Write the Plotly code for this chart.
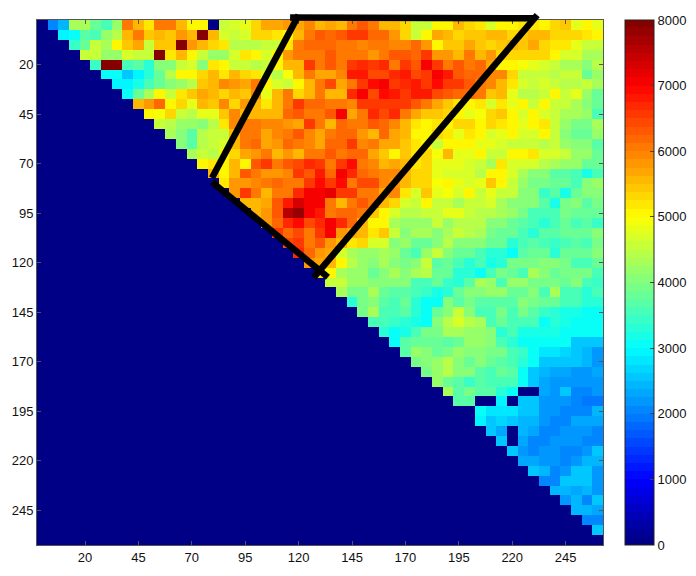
"""Upper-triangle jet heatmap with a black outlined region."""
import plotly.graph_objects as go

# values in hundreds; row r holds columns r+1 .. 52, everything left of that is 0
row_00 = [20,24,43,43,38,36,42,60,56,52,61,60,55,51,50,0,46,47,48,53,57,57,58,57,59,56,57,56,60,63,60,55,55,53,45,46,50,51,56,53,52,47,50,50,52,52,51,53,54,48,50,48]
row_01 = [29,30,37,35,42,44,56,60,54,56,54,58,56,80,56,47,46,47,53,53,52,51,56,60,63,62,63,65,65,62,62,58,53,46,50,57,56,53,54,54,55,55,53,54,55,56,53,53,53,52,50]
row_02 = [34,38,46,43,50,54,57,46,54,54,80,58,56,53,52,44,44,44,45,46,52,60,62,62,62,61,60,59,60,61,59,59,62,58,51,54,54,57,54,53,54,55,54,57,53,52,52,48,46,46]
row_03 = [45,45,42,42,47,45,45,80,52,55,50,46,42,42,47,52,50,47,50,58,60,60,61,63,61,60,60,58,60,63,63,62,65,58,58,55,60,55,58,53,53,53,53,53,50,47,47,43,43]
row_04 = [34,80,80,36,37,33,41,40,45,47,41,52,51,45,46,44,46,50,56,56,65,60,63,61,66,67,66,67,61,65,63,70,66,61,63,60,62,57,51,50,49,48,47,46,43,43,41,44]
row_05 = [30,30,26,29,33,38,44,50,51,53,55,52,56,53,52,47,44,49,56,60,57,57,59,68,68,64,64,67,68,64,66,70,68,63,62,62,59,59,53,46,45,45,44,45,45,38,42]
row_06 = [29,29,32,35,38,40,42,44,54,55,59,58,57,60,50,47,46,50,55,60,64,57,61,65,69,70,65,67,68,65,69,65,65,63,61,59,55,52,47,46,47,45,44,44,45,43]
row_07 = [30,38,43,50,46,52,54,57,56,53,55,54,59,48,55,61,53,56,61,56,56,67,70,64,69,68,65,68,68,64,63,62,62,61,54,55,48,44,44,45,50,45,48,42,38]
row_08 = [55,58,62,51,53,48,56,54,59,53,58,55,52,56,60,65,62,62,61,61,59,66,65,65,65,66,63,60,57,54,52,51,52,47,52,48,50,46,50,46,45,43,41,38]
row_09 = [50,49,53,46,44,48,48,54,59,55,56,55,56,62,63,61,61,63,70,57,61,67,64,67,60,57,54,54,53,50,48,49,53,54,50,47,50,47,46,43,43,42,35]
row_10 = [46,44,42,42,41,44,52,59,60,60,59,59,58,57,66,61,56,62,60,61,63,62,59,56,52,50,52,50,53,53,50,53,52,50,48,50,52,46,42,39,39,43]
row_11 = [43,40,37,44,46,46,55,60,61,57,59,60,63,59,57,60,62,62,58,56,62,57,55,50,51,53,52,48,52,50,47,48,50,47,47,51,45,40,38,38,42]
row_12 = [40,37,44,45,47,56,61,62,57,58,62,60,59,57,62,62,66,59,60,57,57,54,52,50,46,50,50,50,48,48,47,46,45,45,44,45,42,40,40,37]
row_13 = [43,46,44,50,53,57,58,60,56,58,56,60,61,63,61,62,62,57,54,50,54,52,53,49,55,48,48,50,46,46,50,50,52,47,47,45,42,42,38]
row_14 = [50,52,50,55,51,63,65,61,63,64,67,65,60,65,69,61,59,56,57,55,52,53,48,48,48,47,46,43,52,47,47,47,44,43,42,42,38,38]
row_15 = [55,50,56,63,60,58,58,59,65,63,68,62,70,67,62,61,59,59,55,53,53,48,47,47,47,44,50,50,47,43,40,40,37,37,35,32,36]
row_16 = [52,58,58,59,60,62,61,60,66,69,66,69,61,64,64,59,58,56,53,53,49,50,48,47,48,54,50,46,42,39,39,38,38,35,40,42]
row_17 = [58,65,60,56,60,60,67,71,71,72,66,65,61,60,57,59,52,47,54,48,49,47,51,46,48,45,45,41,41,34,37,32,38,41,41]
row_18 = [56,55,57,63,68,73,70,71,60,56,60,63,60,55,53,47,45,50,46,46,43,45,45,47,43,41,41,40,37,32,39,40,37,39]
row_19 = [56,58,63,76,78,70,68,60,62,62,60,54,50,47,44,44,45,46,48,48,45,44,44,43,42,39,35,35,36,39,38,38,38]
row_20 = [58,62,67,69,64,67,70,67,62,56,51,50,43,42,42,42,46,42,44,44,44,41,41,38,37,35,33,35,38,35,37,34]
row_21 = [65,62,64,60,65,71,58,57,55,52,54,46,41,43,43,41,43,46,44,43,39,38,38,35,33,37,37,38,38,38,40]
row_22 = [64,66,60,63,58,56,52,53,47,47,40,42,38,38,41,44,40,41,40,38,38,33,36,37,36,34,36,37,35,39]
row_23 = [67,62,58,57,47,43,42,42,43,42,38,35,42,45,40,38,38,36,33,33,31,37,38,38,33,38,38,38,40]
row_24 = [58,57,56,50,44,42,41,43,40,39,41,45,37,38,35,33,36,32,33,39,39,39,40,41,39,35,36,38]
row_25 = [52,50,43,42,42,38,40,43,40,43,44,38,38,33,33,30,35,39,38,35,43,40,38,39,39,39,36]
row_26 = [46,46,42,42,41,40,40,40,36,36,38,34,33,37,43,42,35,42,42,39,39,39,38,40,36,34]
row_27 = [43,39,39,43,38,37,37,35,34,32,33,38,40,40,42,42,38,38,40,36,43,36,35,33,35]
row_28 = [33,39,40,37,36,38,33,30,30,41,37,39,37,37,37,37,40,39,38,38,35,35,33,33]
row_29 = [39,43,36,35,37,33,31,38,41,45,41,36,36,39,36,39,37,34,33,32,32,31,31]
row_30 = [35,35,34,33,32,30,40,44,47,44,43,36,38,36,36,36,30,33,32,31,31,31]
row_31 = [33,31,32,36,39,39,43,43,42,42,41,33,36,32,32,32,32,31,30,30,30]
row_32 = [31,37,38,38,38,37,38,42,42,41,35,33,31,31,31,30,30,26,25,25]
row_33 = [37,42,41,38,39,42,41,41,39,39,36,34,30,28,28,27,25,24,22]
row_34 = [39,40,42,44,41,38,41,38,37,36,33,30,26,26,25,25,24,22]
row_35 = [39,42,44,41,41,37,36,38,37,31,26,24,23,23,22,22,23]
row_36 = [42,38,37,34,37,36,36,36,30,26,23,22,22,22,22,22]
row_37 = [43,37,39,37,37,33,31,0,0,23,22,26,21,21,22]
row_38 = [37,37,0,0,29,0,25,25,22,22,22,20,19,19]
row_39 = [0,30,28,28,28,25,25,22,22,20,20,21,24]
row_40 = [29,25,27,26,24,24,22,21,21,23,23,23]
row_41 = [25,23,0,24,23,21,20,22,22,22,20]
row_42 = [25,0,23,21,20,22,22,22,20,21]
row_43 = [26,22,20,22,22,20,20,22,25]
row_44 = [23,23,22,22,21,22,24,24]
row_45 = [25,24,21,22,25,25,22]
row_46 = [21,20,25,25,25,22]
row_47 = [24,24,23,24,22]
row_48 = [22,24,21,25]
row_49 = [24,24,23]
row_50 = [21,21]
row_51 = [25]

rows = [row_00, row_01, row_02, row_03, row_04, row_05, row_06, row_07, row_08, row_09,
        row_10, row_11, row_12, row_13, row_14, row_15, row_16, row_17, row_18, row_19,
        row_20, row_21, row_22, row_23, row_24, row_25, row_26, row_27, row_28, row_29,
        row_30, row_31, row_32, row_33, row_34, row_35, row_36, row_37, row_38, row_39,
        row_40, row_41, row_42, row_43, row_44, row_45, row_46, row_47, row_48, row_49,
        row_50, row_51, []]

tick_vals = [20, 45, 70, 95, 120, 145, 170, 195, 220, 245]
cbar_ticks = [0, 1000, 2000, 3000, 4000, 5000, 6000, 7000, 8000]

# the four black strokes in axis units: (x0, y0, x1, y1)
strokes = [
    (116, -3.8, 230.5, -3.4),
    (231.7, -5, 127, 127.5),
    (133.7, 127.3, 79.4, 79.3),
    (79.4, 77.3, 120, -5),
]
y_range = [262.5, -2.5]

bad = [(r, len(v), 52 - r) for r, v in enumerate(rows) if len(v) != 52 - r]
if bad:
    raise ValueError(f"row lengths: {bad}")

z = [[0] * (r + 1) + [v * 100 for v in row] for r, row in enumerate(rows)]
axis_vals = [i * 5 for i in range(53)]


def jet_steps(n=64):
    """Stepped Matlab jet, n flat bands"""
    scale = []
    for i in range(n):
        f = (i + 0.5) / n
        r = min(max(min(4 * f - 1.5, 4.5 - 4 * f), 0), 1)
        g = min(max(min(4 * f - 0.5, 3.5 - 4 * f), 0), 1)
        b = min(max(min(4 * f + 0.5, 2.5 - 4 * f), 0), 1)
        color = f"rgb({round(r * 255)},{round(g * 255)},{round(b * 255)})"
        scale.append([i / n, color])
        scale.append([(i + 1) / n, color])
    return scale


def y_paper(y):
    """Axis y to paper y, so the strokes can poke out above the plot"""
    return (y - y_range[0]) / (y_range[1] - y_range[0])


fig = go.Figure()

fig.add_trace(go.Heatmap(
    x=axis_vals,
    y=axis_vals,
    z=z,
    zmin=0,
    zmax=8000,
    colorscale=jet_steps(),
    colorbar=dict(
        x=1.0385,
        xanchor='left',
        xpad=0,
        ypad=0,
        y=0.5,
        len=1,
        thickness=29,
        outlinewidth=1,
        outlinecolor='#222222',
        tickvals=cbar_ticks,
        ticks='inside',
        ticklen=4,
        tickcolor='#444444',
        tickfont=dict(size=13, color='#111111'),
    ),
))

for x0, y0, x1, y1 in strokes:
    fig.add_shape(
        type='line',
        xref='x',
        yref='paper',
        x0=x0,
        y0=y_paper(y0),
        x1=x1,
        y1=y_paper(y1),
        line=dict(color='black', width=6.5),
    )

axis_style = dict(
    tickvals=tick_vals,
    ticks='inside',
    ticklen=4,
    tickwidth=1,
    tickcolor='#555555',
    showgrid=False,
    zeroline=False,
    showline=True,
    linecolor='#555555',
    linewidth=1,
    mirror='ticks',
    tickfont=dict(size=13, color='#111111'),
)

fig.update_layout(
    width=696,
    height=576,
    margin=dict(l=37.3, r=93.3, t=20, b=31, autoexpand=False),
    paper_bgcolor='white',
    plot_bgcolor='white',
    font=dict(family='Liberation Sans, Arial', size=13),
    xaxis=dict(range=[-2.5, 262.5], **axis_style),
    yaxis=dict(range=y_range, **axis_style),
)

fig.write_html(
    "out.html",
    config=dict(displayModeBar=False),
    post_script="document.body.style.margin='0';",
)
